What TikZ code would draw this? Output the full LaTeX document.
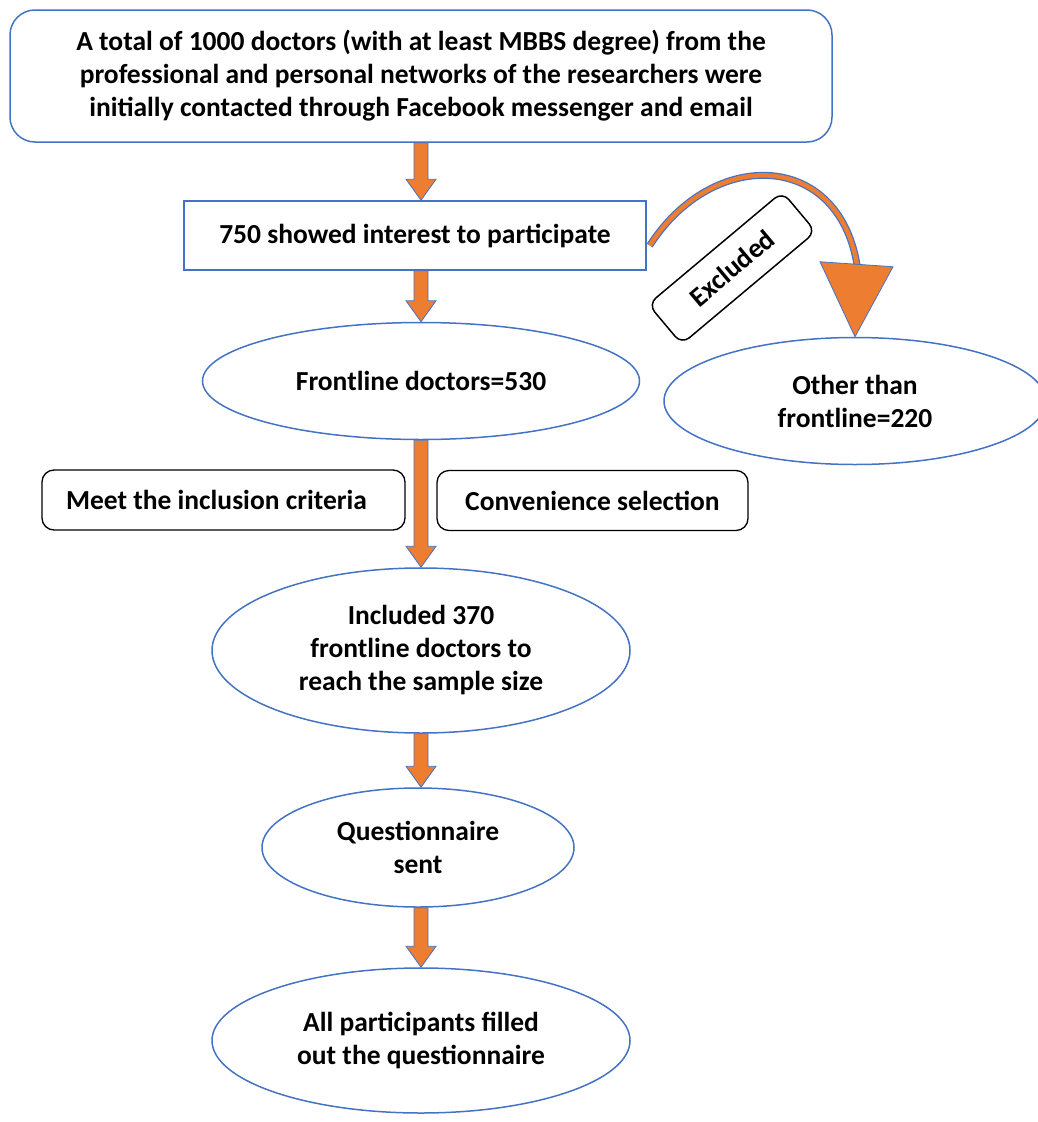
\documentclass[tikz,border=0pt]{standalone}
\usepackage{fontspec}
\setmainfont{Carlito}
\usetikzlibrary{shapes.geometric,calc}
\definecolor{bblue}{HTML}{4472C4}
\definecolor{aorange}{HTML}{ED7D31}
\tikzset{
 txt/.style={font=\bfseries\fontsize{27.5}{33}\selectfont, align=center, text=black},
 roundbox/.style={txt, draw=bblue, line width=1.5pt, rounded corners=25pt, minimum width=822pt, minimum height=132pt},
 plainbox/.style={txt, draw=bblue, line width=1.5pt, minimum width=462pt, minimum height=69pt},
 oval/.style={txt, ellipse, draw=bblue, line width=1.5pt, inner sep=0pt},
 critbox/.style={txt, draw=black, line width=1.3pt, rounded corners=12pt, minimum height=60pt},
 blockarrow/.style={fill=aorange, draw=bblue, line width=0.8pt},
}
\newcommand\blockarr[3]{%
 \path[blockarrow] let \p1=(#1), \p2=(#2), \p3=(#3) in
 (\x3-7pt,\y1) -- (\x3-7pt,\y2+21pt) -- (\x3-15pt,\y2+21pt) -- (\x3,\y2) --
 (\x3+15pt,\y2+21pt) -- (\x3+7pt,\y2+21pt) -- (\x3+7pt,\y1) -- cycle;}
\begin{document}
\begin{tikzpicture}[x=1pt,y=-1pt]
\useasboundingbox (0,0) rectangle (1038,1122);
\node[roundbox] (top) at (421,76) {A total of 1000 doctors (with at least MBBS degree) from the\\professional and personal networks of the researchers were\\initially contacted through Facebook messenger and email};
\node[plainbox] (int) at (415,235.5) {750 showed interest to participate};
\node[oval, minimum width=437pt, minimum height=117pt] (fl) at (421,381) {Frontline doctors=530};
\node[oval, minimum width=382pt, minimum height=127pt] (oth) at (855,401) {Other than\\frontline=220};
\node[critbox, minimum width=363pt] (meet) at (223.5,500) {Meet the inclusion criteria\kern14pt};
\node[critbox, minimum width=311pt] (conv) at (592.5,500.5) {Convenience selection};
\node[oval, minimum width=418pt, minimum height=165pt] (inc) at (421,650.5) {Included 370\\frontline doctors to\\reach the sample size};
\node[oval, minimum width=312pt, minimum height=119pt] (q) at (418,847.5) {Questionnaire\\sent};
\node[oval, minimum width=418pt, minimum height=145pt] (all) at (421,1040.5) {All participants filled\\out the questionnaire};
\blockarr{top.south}{int.north}{top.south}
\blockarr{int.south}{fl.north}{fl.north}
\blockarr{fl.south}{inc.north}{inc.north}
\blockarr{inc.south}{q.north}{inc.north}
\blockarr{q.south}{all.north}{all.north}
\coordinate (tip) at (oth.north);
\coordinate (cs) at ($(int.east)+(3,10)$);
\coordinate (ce) at ($(tip)+(2,-72)$);
\draw[bblue, line width=7pt] (cs) .. controls (712,148) and (838,150) .. (ce);
\draw[aorange, line width=4.5pt] (cs) .. controls (712,148) and (838,150) .. (ce);
\path[blockarrow] ($(tip)+(-35,-75)$) -- (tip) -- ($(tip)+(38,-70)$) -- cycle;
\node[txt, draw=black, line width=1.5pt, rounded corners=10pt, rotate=40, minimum width=175pt, minimum height=52pt, inner sep=2pt, fill=white] (exc) at (732,268) {Excluded};
\end{tikzpicture}
\end{document}
